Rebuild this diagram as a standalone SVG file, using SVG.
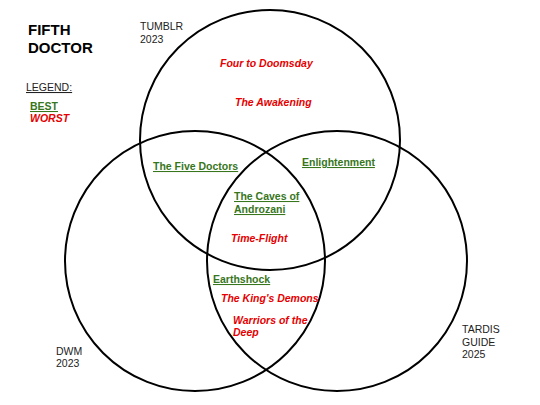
<svg xmlns="http://www.w3.org/2000/svg" width="540" height="405" viewBox="0 0 540 405">
<style>
text{font-family:"Liberation Sans",Arial,sans-serif;font-size:10.5px;fill:#222}
.circle{fill:none;stroke:#000;stroke-width:2}
.best{fill:#38761d;font-weight:bold;text-decoration:underline}
.worst{fill:#e60000;font-weight:bold;font-style:italic}
.title{font-weight:bold;font-size:15px;fill:#000}
</style>
<rect width="540" height="405" fill="#fff"/>
<g id="sets">
<circle id="tumblr" class="circle" cx="270" cy="140" r="130"/>
<circle id="dwm" class="circle" cx="195" cy="261" r="130"/>
<circle id="tardis" class="circle" cx="337" cy="261" r="130"/>
</g>
<g id="title"><text class="title" x="28" y="35">FIFTH</text><text class="title" x="28" y="53">DOCTOR</text></g>
<g id="legend">
<text x="26" y="91" style="text-decoration:underline">LEGEND:</text>
<text class="best" x="30" y="110">BEST</text>
<text class="worst" x="30" y="122">WORST</text>
</g>
<g id="set-labels">
<text x="140" y="30">TUMBLR</text><text x="140" y="43">2023</text>
<text x="56" y="355">DWM</text><text x="56" y="367">2023</text>
<text x="462" y="333">TARDIS</text><text x="462" y="346">GUIDE</text><text x="462" y="358">2025</text>
</g>
<g id="stories">
<text class="worst" x="220" y="67">Four to Doomsday</text>
<text class="worst" x="235" y="106">The Awakening</text>
<text class="best" x="153" y="170">The Five Doctors</text>
<text class="best" x="302" y="166">Enlightenment</text>
<text class="best" x="234" y="200">The Caves of</text>
<text class="best" x="234" y="213">Androzani</text>
<text class="worst" x="231" y="242">Time-Flight</text>
<text class="best" x="213" y="283">Earthshock</text>
<text class="worst" x="221" y="302">The King's Demons</text>
<text class="worst" x="233" y="324">Warriors of the</text>
<text class="worst" x="233" y="336">Deep</text>
</g>
</svg>
